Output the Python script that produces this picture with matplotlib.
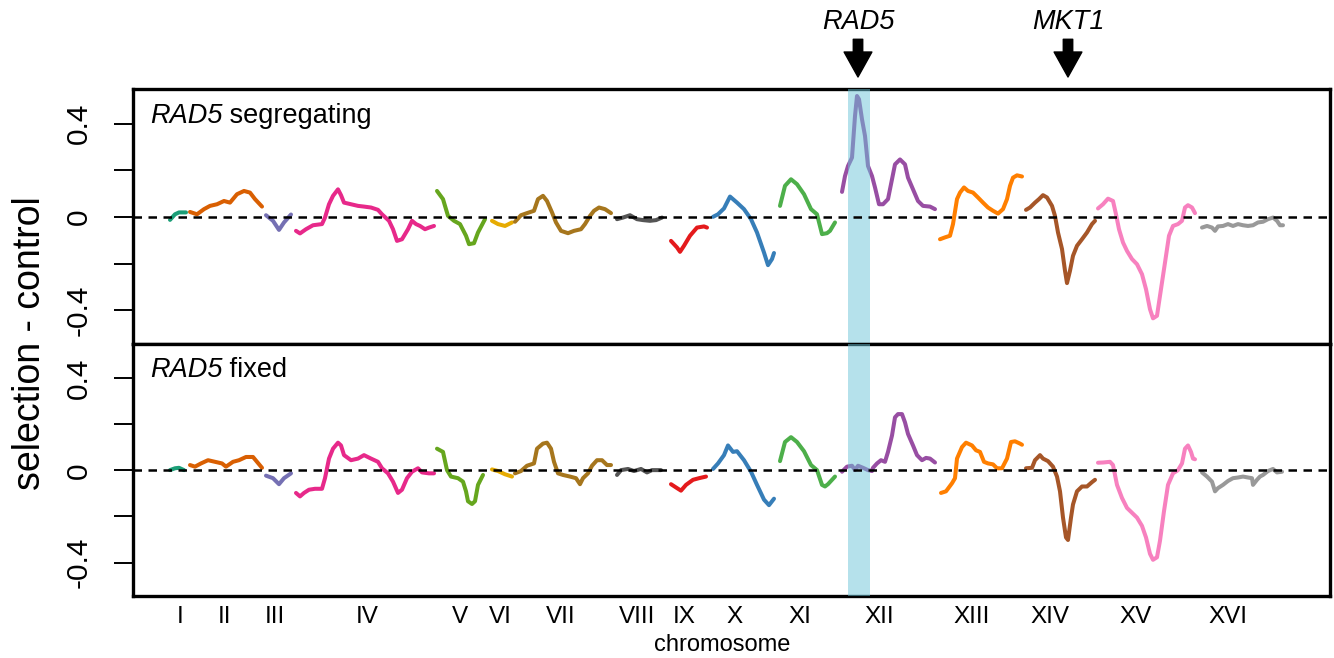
import matplotlib
matplotlib.use('Agg')
import matplotlib.pyplot as plt
import matplotlib.transforms as mtransforms

plt.rcParams['font.family'] = ['Liberation Sans', 'DejaVu Sans']

# ---------------- data ----------------
chrom_labels = ['I', 'II', 'III', 'IV', 'V', 'VI', 'VII', 'VIII', 'IX', 'X',
                'XI', 'XII', 'XIII', 'XIV', 'XV', 'XVI']
chrom_label_pos = [47, 91, 142, 234, 327, 367, 428, 504, 551, 602,
                   667, 746, 839, 917, 1003, 1095]
chrom_colors = ['#1b9e77', '#d95f02', '#7570b3', '#e7298a', '#66a61e', '#e6ab02',
                '#a6761d', '#555555', '#e41a1c', '#377eb8', '#4daf4a', '#984ea3',
                '#ff7f00', '#a65628', '#f781bf', '#999999']
panel_titles = ['segregating', 'fixed']
gene_names = ['RAD5', 'MKT1']
gene_pos = [725, 935]
rad5_band = [715, 737]

# --- RAD5 segregating (top panel) ---
seg_I_pos = [37, 42, 46, 53]
seg_I_val = [-0.013, 0.011, 0.019, 0.019]
seg_II_pos = [57, 64, 71, 77, 84, 91, 97, 104, 111, 117, 122, 129]
seg_II_val = [0.021, 0.011, 0.033, 0.047, 0.054, 0.068, 0.061, 0.097, 0.111, 0.104, 0.076, 0.044]
seg_III_pos = [133, 140, 146, 151, 158]
seg_III_val = [0.007, -0.017, -0.056, -0.024, 0.010]
seg_IV_pos = [163, 167, 173, 180, 189, 192, 196, 200, 205, 208, 211, 218, 225, 231,
              238, 245, 249, 256, 260, 264, 269, 275, 279, 283, 287, 292, 296, 301]
seg_IV_val = [-0.060, -0.071, -0.053, -0.036, -0.031, -0.003, 0.054, 0.090, 0.118, 0.093,
              0.061, 0.054, 0.047, 0.044, 0.040, 0.030, 0.011, -0.017, -0.053, -0.103,
              -0.096, -0.053, -0.017, -0.031, -0.039, -0.053, -0.046, -0.039]
seg_V_pos = [304, 310, 315, 321, 327, 333, 336, 341, 345, 352]
seg_V_val = [0.111, 0.076, 0.004, -0.017, -0.031, -0.081, -0.117, -0.113, -0.067, -0.010]
seg_VI_pos = [359, 365, 372, 379]
seg_VI_val = [-0.017, -0.031, -0.039, -0.024]
seg_VII_pos = [382, 388, 394, 401, 405, 410, 414, 419, 423, 428, 435, 441, 448, 452,
               457, 461, 466, 472, 478]
seg_VII_val = [-0.021, 0.007, 0.016, 0.026, 0.076, 0.090, 0.068, 0.019, -0.024, -0.060,
               -0.070, -0.060, -0.053, -0.031, 0.004, 0.026, 0.040, 0.033, 0.016]
seg_VIII_pos = [484, 490, 497, 504, 510, 517, 523, 529]
seg_VIII_val = [-0.010, -0.003, 0.007, -0.010, -0.014, -0.017, -0.014, -0.003]
seg_IX_pos = [538, 544, 547, 551, 557, 564, 571, 574]
seg_IX_val = [-0.103, -0.131, -0.150, -0.124, -0.081, -0.046, -0.041, -0.046]
seg_X_pos = [580, 585, 591, 597, 604, 611, 618, 624, 631, 635, 639, 641]
seg_X_val = [0.000, 0.011, 0.036, 0.087, 0.061, 0.033, -0.010, -0.067, -0.153, -0.207,
             -0.181, -0.155]
seg_XI_pos = [647, 652, 658, 664, 671, 678, 684, 689, 694, 697, 702]
seg_XI_val = [0.047, 0.133, 0.161, 0.140, 0.097, 0.033, 0.011, -0.074, -0.070, -0.060, -0.024]
seg_XII_pos = [709, 712, 715, 719, 722, 724, 726, 729, 732, 735, 739, 742, 746, 750,
               755, 759, 762, 767, 772, 775, 780, 785, 790, 797, 802]
seg_XII_val = [0.107, 0.175, 0.218, 0.254, 0.432, 0.518, 0.504, 0.418, 0.347, 0.218,
               0.175, 0.126, 0.054, 0.054, 0.076, 0.161, 0.225, 0.246, 0.225, 0.168,
               0.118, 0.068, 0.047, 0.044, 0.033]
seg_XIII_pos = [807, 812, 817, 820, 824, 827, 831, 835, 840, 845, 850, 855, 860, 865,
                870, 874, 877, 880, 884, 889]
seg_XIII_val = [-0.096, -0.088, -0.081, -0.031, 0.076, 0.104, 0.126, 0.111, 0.104, 0.083,
                0.061, 0.040, 0.026, 0.014, 0.033, 0.076, 0.133, 0.168, 0.178, 0.173]
seg_XIV_pos = [893, 897, 902, 906, 910, 914, 919, 922, 925, 929, 932, 934, 937, 940,
               944, 949, 954, 959, 962]
seg_XIV_val = [0.030, 0.040, 0.061, 0.076, 0.093, 0.083, 0.047, 0.004, -0.067, -0.138,
               -0.231, -0.284, -0.231, -0.167, -0.124, -0.096, -0.067, -0.031, -0.017]
seg_XV_pos = [965, 970, 975, 980, 983, 986, 990, 994, 999, 1004, 1009, 1013, 1017, 1020,
              1024, 1027, 1032, 1036, 1040, 1045, 1049, 1052, 1055, 1059, 1062]
seg_XV_val = [0.036, 0.054, 0.078, 0.068, 0.011, -0.053, -0.110, -0.146, -0.181, -0.203,
              -0.246, -0.310, -0.396, -0.435, -0.424, -0.338, -0.196, -0.081, -0.039,
              -0.031, -0.017, 0.040, 0.050, 0.040, 0.016]
seg_XVI_pos = [1069, 1074, 1079, 1082, 1085, 1090, 1095, 1100, 1105, 1110, 1115, 1120,
               1125, 1130, 1135, 1140, 1144, 1147, 1150]
seg_XVI_val = [-0.046, -0.039, -0.046, -0.060, -0.041, -0.039, -0.031, -0.039, -0.031,
               -0.036, -0.039, -0.036, -0.024, -0.021, -0.010, -0.003, -0.017, -0.036, -0.036]

# --- RAD5 fixed (bottom panel) ---
fix_I_pos = [37, 42, 46, 51]
fix_I_val = [0.001, 0.009, 0.011, 0.001]
fix_II_pos = [57, 62, 68, 75, 82, 89, 93, 100, 106, 113, 120, 124, 129]
fix_II_val = [0.023, 0.016, 0.030, 0.044, 0.037, 0.030, 0.016, 0.037, 0.044, 0.058, 0.058,
              0.037, 0.011]
fix_III_pos = [133, 140, 146, 151, 158]
fix_III_val = [-0.023, -0.034, -0.060, -0.034, -0.013]
fix_IV_pos = [163, 167, 171, 176, 182, 189, 192, 196, 200, 205, 208, 211, 218, 225, 231,
              238, 245, 249, 255, 260, 265, 269, 274, 279, 285, 289, 296, 301]
fix_IV_val = [-0.098, -0.113, -0.098, -0.084, -0.080, -0.080, -0.034, 0.051, 0.094, 0.120,
              0.108, 0.066, 0.044, 0.051, 0.066, 0.051, 0.037, 0.009, -0.013, -0.049,
              -0.098, -0.084, -0.034, -0.006, 0.009, -0.009, -0.013, -0.013]
fix_V_pos = [304, 310, 314, 318, 325, 330, 333, 335, 339, 342, 345, 350]
fix_V_val = [0.094, 0.080, 0.001, -0.027, -0.034, -0.049, -0.091, -0.134, -0.146, -0.134,
             -0.063, -0.020]
fix_VI_pos = [359, 365, 372, 379]
fix_VI_val = [0.004, -0.003, -0.017, -0.027]
fix_VII_pos = [382, 388, 394, 401, 404, 410, 414, 418, 421, 425, 430, 437, 443, 447, 450,
               455, 459, 464, 469, 474, 478]
fix_VII_val = [-0.013, -0.003, 0.020, 0.030, 0.094, 0.116, 0.120, 0.094, 0.037, -0.013,
               -0.020, -0.027, -0.034, -0.060, -0.034, -0.013, 0.020, 0.044, 0.044, 0.023,
               0.023]
fix_VIII_pos = [484, 488, 495, 501, 508, 514, 519, 528]
fix_VIII_val = [-0.020, 0.001, 0.006, -0.003, 0.006, -0.009, 0.001, 0.001]
fix_IX_pos = [538, 544, 548, 553, 560, 566, 573]
fix_IX_val = [-0.060, -0.077, -0.088, -0.063, -0.041, -0.034, -0.027]
fix_X_pos = [580, 585, 591, 595, 600, 604, 611, 618, 624, 631, 636, 641]
fix_X_val = [0.006, 0.030, 0.066, 0.108, 0.080, 0.083, 0.044, -0.006, -0.063, -0.127,
             -0.151, -0.123]
fix_XI_pos = [647, 652, 658, 664, 671, 678, 684, 689, 692, 695, 702]
fix_XI_val = [0.040, 0.123, 0.144, 0.123, 0.083, 0.023, 0.001, -0.063, -0.070, -0.060, -0.027]
fix_XII_pos = [709, 714, 719, 722, 725, 730, 735, 739, 740, 744, 748, 752, 755, 759, 762,
               765, 769, 772, 775, 780, 784, 789, 793, 797, 802]
fix_XII_val = [-0.006, 0.016, 0.020, 0.001, 0.020, 0.011, 0.001, -0.003, 0.011, 0.030,
               0.044, 0.037, 0.080, 0.151, 0.230, 0.244, 0.244, 0.208, 0.158, 0.108,
               0.066, 0.044, 0.054, 0.051, 0.034]
fix_XIII_pos = [808, 813, 819, 822, 824, 829, 833, 839, 843, 847, 851, 855, 860, 864, 869,
                874, 878, 882, 887, 889]
fix_XIII_val = [-0.098, -0.091, -0.056, -0.034, 0.051, 0.101, 0.120, 0.108, 0.087, 0.080,
                0.037, 0.030, 0.026, 0.009, 0.009, 0.051, 0.123, 0.126, 0.116, 0.111]
fix_XIV_pos = [893, 899, 902, 907, 910, 915, 920, 924, 927, 930, 933, 935, 938, 940, 944,
               949, 954, 959, 962]
fix_XIV_val = [0.009, 0.011, 0.044, 0.066, 0.051, 0.040, 0.016, -0.027, -0.091, -0.205,
               -0.291, -0.302, -0.205, -0.148, -0.091, -0.070, -0.070, -0.051, -0.041]
fix_XV_pos = [965, 970, 977, 980, 984, 989, 994, 999, 1004, 1009, 1013, 1017, 1020, 1024,
              1027, 1031, 1035, 1040, 1045, 1049, 1052, 1055, 1058, 1060, 1062]
fix_XV_val = [0.033, 0.034, 0.037, 0.023, -0.063, -0.120, -0.163, -0.184, -0.205, -0.241,
              -0.291, -0.362, -0.388, -0.377, -0.305, -0.177, -0.063, -0.013, 0.001, 0.030,
              0.094, 0.108, 0.080, 0.051, 0.048]
fix_XVI_pos = [1069, 1074, 1079, 1082, 1085, 1090, 1095, 1100, 1105, 1110, 1115, 1119, 1120,
               1124, 1127, 1130, 1135, 1140, 1144, 1149]
fix_XVI_val = [-0.009, -0.027, -0.049, -0.091, -0.077, -0.063, -0.046, -0.034, -0.031,
               -0.027, -0.031, -0.034, -0.063, -0.041, -0.027, -0.020, -0.003, 0.006,
               -0.009, -0.006]

seg_panel = [(seg_I_pos, seg_I_val), (seg_II_pos, seg_II_val), (seg_III_pos, seg_III_val),
             (seg_IV_pos, seg_IV_val), (seg_V_pos, seg_V_val), (seg_VI_pos, seg_VI_val),
             (seg_VII_pos, seg_VII_val), (seg_VIII_pos, seg_VIII_val), (seg_IX_pos, seg_IX_val),
             (seg_X_pos, seg_X_val), (seg_XI_pos, seg_XI_val), (seg_XII_pos, seg_XII_val),
             (seg_XIII_pos, seg_XIII_val), (seg_XIV_pos, seg_XIV_val), (seg_XV_pos, seg_XV_val),
             (seg_XVI_pos, seg_XVI_val)]
fix_panel = [(fix_I_pos, fix_I_val), (fix_II_pos, fix_II_val), (fix_III_pos, fix_III_val),
             (fix_IV_pos, fix_IV_val), (fix_V_pos, fix_V_val), (fix_VI_pos, fix_VI_val),
             (fix_VII_pos, fix_VII_val), (fix_VIII_pos, fix_VIII_val), (fix_IX_pos, fix_IX_val),
             (fix_X_pos, fix_X_val), (fix_XI_pos, fix_XI_val), (fix_XII_pos, fix_XII_val),
             (fix_XIII_pos, fix_XIII_val), (fix_XIV_pos, fix_XIV_val), (fix_XV_pos, fix_XV_val),
             (fix_XVI_pos, fix_XVI_val)]

# ---------------- figure ----------------
fig = plt.figure(figsize=(13.34, 6.58), dpi=100)
left, right = 133 / 1334, 1330 / 1334
ax_top = fig.add_axes([left, 1 - 344 / 658, right - left, 255 / 658])
ax_bot = fig.add_axes([left, 1 - 596 / 658, right - left, 252 / 658])

for ax, panel, title in [(ax_top, seg_panel, panel_titles[0]),
                         (ax_bot, fix_panel, panel_titles[1])]:
    for (px, pv), col in zip(panel, chrom_colors):
        ax.plot(px, pv, color=col, lw=2.9, solid_capstyle='round',
                solid_joinstyle='round', zorder=2)
    ax.axhline(0, color='black', lw=1.8, ls=(0, (3.4, 2.6)), zorder=4)
    ax.axvspan(rad5_band[0], rad5_band[1], color='#6cc5d8', alpha=0.5, lw=0, zorder=3)
    ax.set_xlim(0, 1197)
    ax.set_ylim(-0.545, 0.548)
    ax.set_yticks([-0.4, -0.2, 0, 0.2, 0.4])
    ax.set_yticklabels(['-0.4', '', '0', '', '0.4'])
    ax.tick_params(axis='y', direction='out', length=14, width=1.4, labelsize=21.5,
                   pad=15, labelrotation=90)
    for lab in ax.get_yticklabels():
        lab.set_va('center')
        lab.set_fontsize(21.5)
    for sp in ax.spines.values():
        sp.set_linewidth(2.4)
    t1 = ax.text(0.014, 0.845, 'RAD5', transform=ax.transAxes, style='italic',
                 fontsize=19.5, ha='left', va='bottom')
    ax.annotate(' ' + title, xy=(1, 0), xycoords=t1, fontsize=19.5,
                ha='left', va='bottom')

ax_top.set_xticks([])
ax_bot.set_xticks(chrom_label_pos)
ax_bot.set_xticklabels(chrom_labels)
ax_bot.tick_params(axis='x', length=0, labelsize=17.5, pad=7)

fig.text(722 / 1334, 1 - 645 / 658, 'chromosome', ha='center', va='center', fontsize=17)
fig.text(30 / 1334, 1 - 343 / 658, 'selection - control', rotation=90,
         ha='center', va='center', fontsize=27)

# gene arrows
trans = mtransforms.blended_transform_factory(ax_top.transData, ax_top.transAxes)
for name, gx in zip(gene_names, gene_pos):
    ax_top.annotate('', xy=(gx, 1.047), xycoords=trans,
                    xytext=(gx, 1.195), textcoords=trans,
                    arrowprops=dict(arrowstyle='simple,head_length=0.9,head_width=1.0,tail_width=0.34',
                                    color='black', mutation_scale=20, shrinkA=0, shrinkB=0),
                    annotation_clip=False)
    ax_top.text(gx, 1.262, name, transform=trans, style='italic', fontsize=19.5,
                ha='center', va='center', clip_on=False)

fig.savefig('out.png', dpi=100)
